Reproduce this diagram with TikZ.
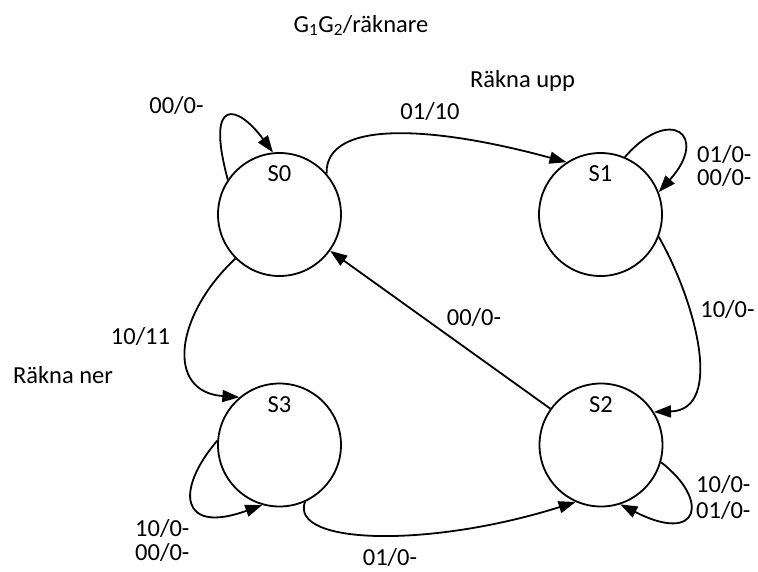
\documentclass[tikz,border=0pt]{standalone}
\usepackage{fontspec}
\setmainfont{Carlito}
\usetikzlibrary{arrows.meta}

\tikzset{
  state/.style = {draw, circle, line width=1.8pt, minimum size=123pt, inner sep=0pt},
  edge/.style = {line width=1.8pt, -{Triangle[length=17pt,width=12pt]}},
  lbl/.style = {anchor=base, inner sep=0pt},
  lbll/.style = {anchor=base west, inner sep=0pt}
}

\begin{document}
\begin{tikzpicture}[x=1pt, y=-1pt, font=\fontsize{24.5}{26}\selectfont]
	\useasboundingbox (0,0) rectangle (758,571);

	\node[state, label={[anchor=base, label distance=-29.5pt]north:S0}] (S0) at (279.5,214.5) {};
	\node[state, label={[anchor=base, label distance=-29.5pt]north:S1}] (S1) at (600.5,214.5) {};
	\node[state, label={[anchor=base, label distance=-29.5pt]north:S2}] (S2) at (601,445) {};
	\node[state, label={[anchor=base, label distance=-29.5pt]north:S3}] (S3) at (279.5,445) {};

	\node[lbl] (title) at (361,32) {G\textsubscript{1}G\textsubscript{2}/räknare};
	\node[lbl] (upp) at (522.5,87) {Räkna upp};
	\node[lbl] (ner) at (63,383) {Räkna ner};

	\node[lbl] (l00) at (176.5,113) {00/0-};
	\node[lbl] (l01) at (430,119) {01/10};
	\node[lbll] (l11a) at (697,162) {01/0-};
	\node[lbll] (l11b) at (697,185) {00/0-};
	\node[lbl] (l03) at (140.5,344) {10/11};
	\node[lbl] (l20) at (474,325) {00/0-};
	\node[lbl] (l12) at (727.5,317) {10/0-};
	\node[lbll] (l33a) at (135,536) {10/0-};
	\node[lbll] (l33b) at (135,560) {00/0-};
	\node[lbll] (l22a) at (696,492) {10/0-};
	\node[lbll] (l22b) at (696,518) {01/0-};
	\node[lbl] (l32) at (390,565) {01/0-};

	\draw[edge] (S0.146) .. controls (205,95) and (238,105) .. (S0.96);
	\draw[edge] (S0.41) .. controls (325,120) and (430,125) .. (S1.123);
	\draw[edge] (S1.67) .. controls (670,105) and (710,135) .. (S1.21);
	\draw[edge] (S1.-21) .. controls (695,300) and (725,410) .. (S2.32);
	\draw[edge] (S2) -- (S0);
	\draw[edge] (S2.-16) .. controls (710,500) and (700,545) .. (S2.-72);
	\draw[edge] (S0.225) .. controls (175,315) and (165,392) .. (S3.130);
	\draw[edge] (S3.176) .. controls (175,490) and (180,535) .. (S3.-106);
	\draw[edge] (S3.-66) .. controls (290,545) and (430,548) .. (S2.-114);

\end{tikzpicture}
\end{document}
